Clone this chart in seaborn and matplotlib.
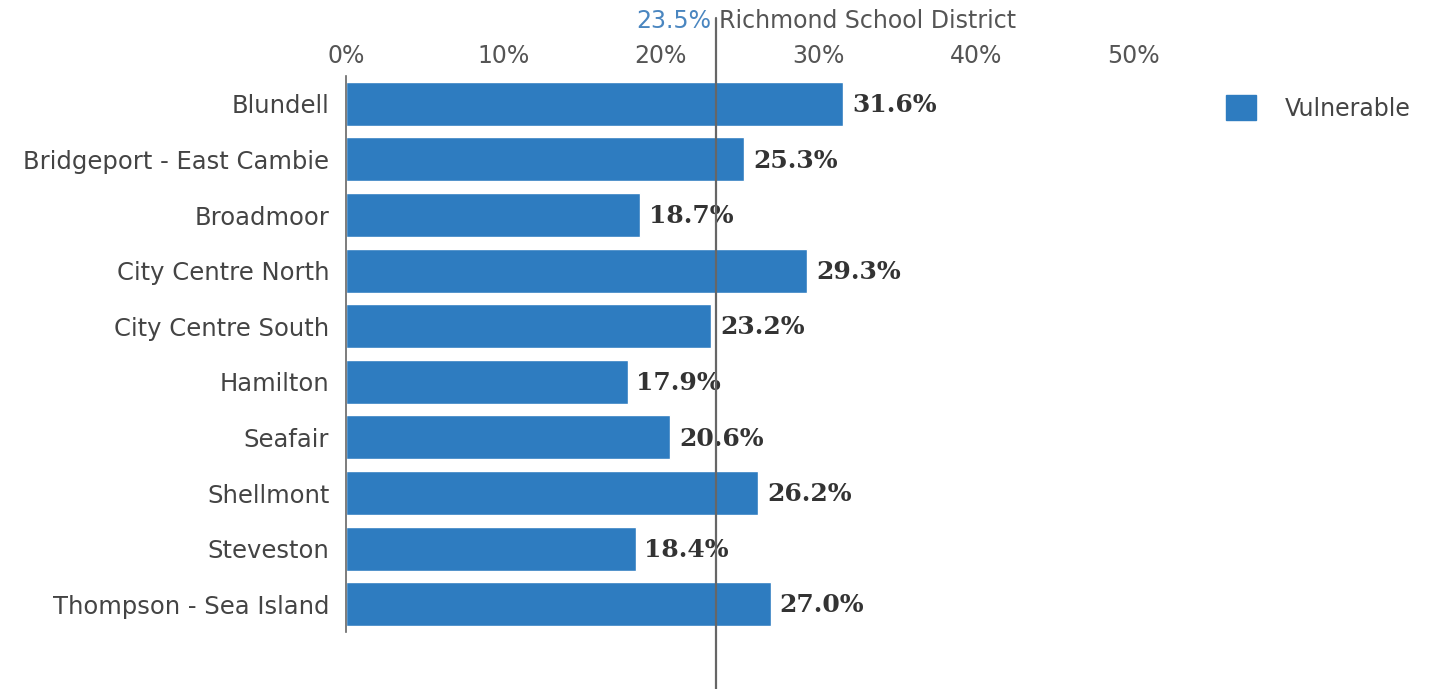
import matplotlib
matplotlib.use("Agg")
import matplotlib.pyplot as plt
import matplotlib.patches as mpatches
import seaborn as sns
import pandas as pd

# Data
areas = ["Blundell", "Bridgeport - East Cambie", "Broadmoor", "City Centre North",
         "City Centre South", "Hamilton", "Seafair", "Shellmont", "Steveston",
         "Thompson - Sea Island"]
vulnerable = [31.6, 25.3, 18.7, 29.3, 23.2, 17.9, 20.6, 26.2, 18.4, 27.0]
district_avg = 23.5
district_name = "Richmond School District"
x_ticks = [0, 10, 20, 30, 40, 50]

df = pd.DataFrame({"Area": areas, "Vulnerable": vulnerable})

bar_color = "#2e7cc0"
text_color = "#444444"

sns.set_style("white")
plt.rcParams['font.family'] = ['DejaVu Sans']

fig = plt.figure(figsize=(14.34, 6.89), dpi=100)
ax = fig.add_axes([0.2413, 0.0827, 0.845 - 0.2413, 0.807])

sns.barplot(data=df, x="Vulnerable", y="Area", color=bar_color, width=0.79,
            saturation=1, ax=ax)

ax.set_xlim(0, 55)
ax.set_ylim(9.5, -0.5)
ax.set_xlabel("")
ax.set_ylabel("")

ax.xaxis.tick_top()
ax.set_xticks(x_ticks)
ax.set_xticklabels([f"{t}%" for t in x_ticks])
ax.tick_params(axis="x", length=0, pad=6, labelsize=17, labelcolor="#555555")
ax.tick_params(axis="y", length=0, pad=12, labelsize=17.5, labelcolor=text_color)

for s in ["top", "right", "bottom"]:
    ax.spines[s].set_visible(False)
ax.spines["left"].set_color("#666666")
ax.spines["left"].set_linewidth(1.2)

# value labels
for i, v in enumerate(vulnerable):
    ax.text(v + 0.55, i + 0.02, f"{v:.1f}%", va="center", ha="left",
            fontsize=18, fontweight="bold", family="DejaVu Serif",
            color="#333333")

# district reference line
ax.axvline(district_avg, ymin=-0.103, ymax=1.104, color="#666666",
           linewidth=1.6, clip_on=False, zorder=5)
ty = 1.0 + (76 - 21) / 556
ax.text(district_avg - 0.3, ty, f"{district_avg}%", transform=ax.get_xaxis_transform(),
        ha="right", va="center", fontsize=17, color="#4a86c0")
ax.text(district_avg + 0.2, ty, district_name, transform=ax.get_xaxis_transform(),
        ha="left", va="center", fontsize=17, color="#555555")

# legend
handle = mpatches.Patch(color=bar_color, label="Vulnerable")
fig.legend(handles=[handle], loc="upper left", bbox_to_anchor=(0.840, 0.893),
           frameon=False, fontsize=17, handlelength=1.27, handleheight=1.27,
           handletextpad=1.25, labelcolor=text_color)

fig.savefig("out.png", dpi=100, facecolor="white")
